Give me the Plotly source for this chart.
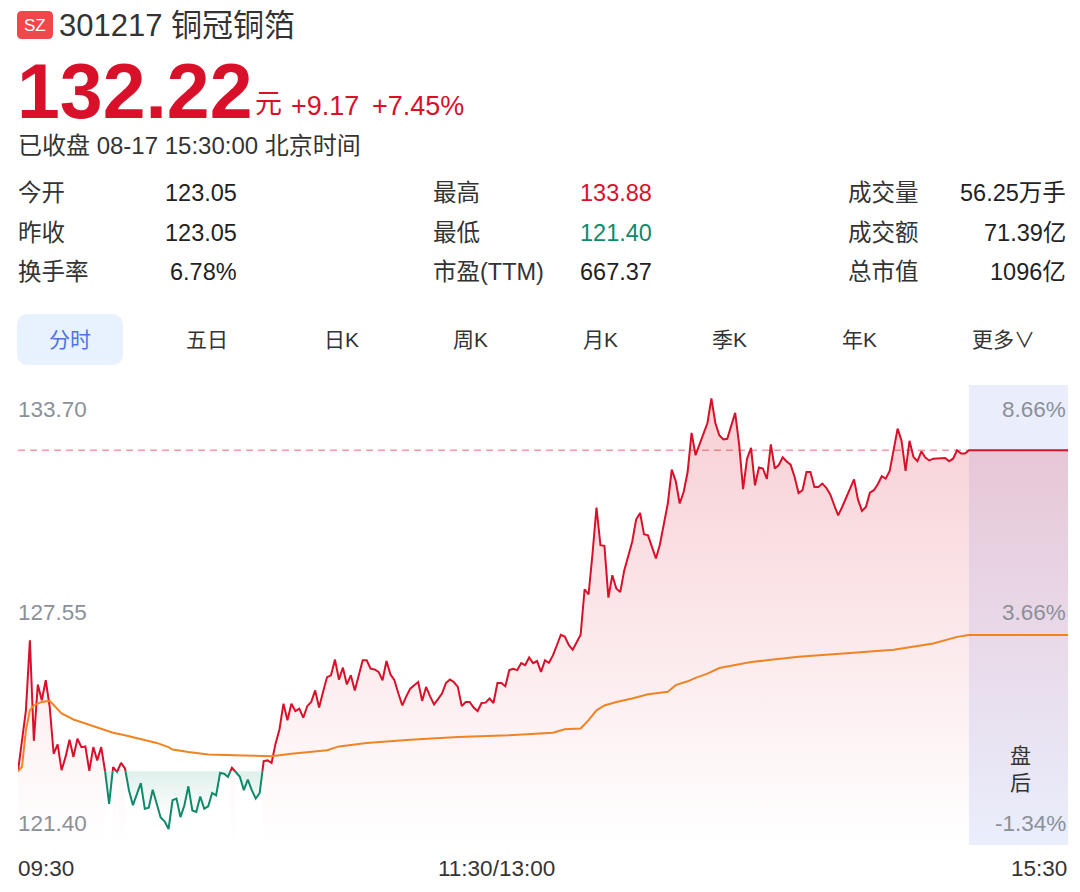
import plotly.graph_objects as go

# ── Colours / fonts ─────────────────────────────────────
RED = '#D9102A'
GREEN = '#0E8A6A'
ORANGE = '#F08322'
GRAY = '#8C9098'
DARK = '#333333'
FONT = 'Liberation Sans, Arial, Noto Sans CJK SC'
OFF = 8                     # page body margin
W, H = 1064, 876

# ── Data ───────────────────────────────────────────────
prev_close = 123.05
# minute index 0..240 (09:30-11:30, 13:00-15:00)
minutes = list(range(241))
prices = [
    123.05, 123.90, 124.79, 126.79, 123.92, 125.53, 125.08, 125.65, 124.89, 123.55,
    123.82, 123.08, 123.46, 123.95, 123.46, 123.98, 123.74, 123.76, 123.06, 123.74,
    123.36, 123.74, 123.03, 122.12, 123.17, 123.03, 123.29, 123.13, 122.51, 122.08,
    122.41, 122.71, 121.98, 122.01, 122.52, 122.12, 121.73, 121.62, 121.40, 122.22,
    122.27, 121.74, 122.08, 122.62, 121.93, 121.89, 122.33, 121.98, 122.05, 122.43,
    122.36, 123.00, 122.98, 122.89, 123.15, 123.02, 122.89, 122.51, 122.81, 122.51,
    122.27, 122.43, 123.34, 123.36, 123.29, 123.84, 124.25, 124.98, 124.51, 124.98,
    124.77, 124.84, 124.58, 124.91, 125.03, 125.36, 124.87, 125.32, 125.74, 125.79,
    126.24, 125.67, 126.01, 125.53, 125.79, 125.36, 125.79, 126.22, 126.22, 125.98,
    125.96, 125.89, 125.65, 126.20, 125.82, 125.65, 125.27, 124.93, 125.19, 125.41,
    125.51, 125.60, 125.06, 125.46, 125.19, 124.96, 125.11, 125.27, 125.57, 125.67,
    125.60, 125.46, 124.91, 125.03, 125.03, 124.87, 124.77, 125.00, 125.01, 125.13,
    125.00, 125.57, 125.57, 125.48, 125.94, 125.98, 125.94, 126.14, 126.08, 126.30,
    126.14, 126.20, 125.89, 126.22, 126.15, 126.36, 126.65, 126.95, 126.90, 126.66,
    126.52, 126.72, 126.95, 128.25, 128.10, 129.27, 130.58, 129.51, 129.49, 128.01,
    128.65, 128.27, 128.17, 128.79, 129.22, 129.60, 130.24, 130.43, 129.82, 129.79,
    129.46, 129.13, 129.53, 130.17, 130.70, 131.67, 131.34, 130.70, 131.03, 131.60,
    132.72, 132.08, 132.39, 132.67, 133.00, 133.70, 133.00, 132.65, 132.53, 132.55,
    132.96, 133.29, 132.39, 131.11, 131.98, 132.29, 131.22, 131.73, 131.70, 131.40,
    132.39, 131.70, 131.80, 132.02, 131.90, 131.81, 131.46, 131.00, 131.08, 131.60,
    131.60, 131.17, 131.17, 131.27, 131.15, 130.96, 130.65, 130.36, 130.60, 130.87,
    131.15, 131.39, 130.81, 130.49, 130.60, 131.01, 131.08, 131.25, 131.48, 131.41,
    131.63, 132.22, 132.84, 132.49, 131.63, 132.49, 132.03, 131.91, 132.19, 132.01,
    131.93, 131.98, 131.98, 131.98, 132.00, 131.91, 131.98, 132.22, 132.13, 132.13,
    132.22,
]
# after-hours session (15:05-15:30) stays at the close
post_minutes = [265]
post_prices = [132.22]

avg_minutes = [0, 1, 2, 3, 4, 6, 8, 9, 11, 14, 17, 21, 24, 27, 32, 35, 38, 39, 43, 48,
               57, 64, 69, 78, 81, 88, 99, 111, 124, 135, 138, 142, 144, 146, 148, 151,
               155, 159, 164, 166, 169, 171, 174, 177, 185, 197, 210, 221, 231, 237, 240, 265]
avg_prices = [123.05, 123.17, 124.22, 124.79, 124.93, 125.03, 125.06, 124.93, 124.70, 124.53,
              124.41, 124.27, 124.15, 124.08, 123.95, 123.86, 123.74, 123.67, 123.60, 123.53,
              123.50, 123.48, 123.55, 123.65, 123.76, 123.86, 123.95, 124.03, 124.08, 124.15,
              124.25, 124.27, 124.51, 124.79, 124.93, 125.03, 125.13, 125.25, 125.32, 125.51,
              125.62, 125.72, 125.84, 126.00, 126.17, 126.32, 126.43, 126.52, 126.70, 126.89,
              126.94, 126.94]

y_labels_left = ['133.70', '127.55', '121.40']
y_label_values = [133.70, 127.55, 121.40]
y_labels_right = ['8.66%', '3.66%', '-1.34%']
x_labels = ['09:30', '11:30/13:00', '15:30']
x_label_minutes = [0, 120, 265]

stats = [
    [('今开', '123.05', None), ('最高', '133.88', RED), ('成交量', '56.25万手', None)],
    [('昨收', '123.05', None), ('最低', '121.40', GREEN), ('成交额', '71.39亿', None)],
    [('换手率', '6.78%', None), ('市盈(TTM)', '667.37', None), ('总市值', '1096亿', None)],
]
tabs = ['分时', '五日', '日K', '周K', '月K', '季K', '年K', '更多∨']


# ── split price line into runs above / below previous close ─
def split_by_level(xs, ys, level):
    segs = []
    cur_up = ys[0] >= level
    cx, cy = [xs[0]], [ys[0]]
    for i in range(1, len(xs)):
        x0, y0, x, y = xs[i - 1], ys[i - 1], xs[i], ys[i]
        up = y >= level
        if up != cur_up:
            xc = x0 + (x - x0) * (level - y0) / (y - y0)
            cx.append(xc); cy.append(level)
            segs.append((cur_up, cx, cy))
            cur_up = up
            cx, cy = [xc], [level]
        cx.append(x); cy.append(y)
    segs.append((cur_up, cx, cy))
    return segs


Y_LO, Y_HI = 120.943, 134.086

fig = go.Figure()
for up, sx, sy in split_by_level(minutes + post_minutes, prices + post_prices, prev_close):
    if up:
        # red runs: gradient area down to the bottom of the chart
        fig.add_trace(go.Scatter(
            x=sx, y=sy, mode='lines', line=dict(color=RED, width=2),
            fill='tozeroy',
            fillgradient=dict(type='vertical', start=Y_LO, stop=133.7,
                              colorscale=[[0, 'rgba(217,16,42,0)'], [1, 'rgba(217,16,42,0.20)']]),
            hoverinfo='skip', showlegend=False
        ))
    else:
        # green runs: shaded between the line and the previous close
        fig.add_trace(go.Scatter(
            x=sx, y=sy, mode='lines', line=dict(color=GREEN, width=2),
            fill='toself',
            fillgradient=dict(type='vertical', start=121.7, stop=prev_close,
                              colorscale=[[0, 'rgba(14,138,106,0)'], [1, 'rgba(14,138,106,0.13)']]),
            hoverinfo='skip', showlegend=False
        ))
fig.add_trace(go.Scatter(
    x=avg_minutes, y=avg_prices, mode='lines',
    line=dict(color=ORANGE, width=2), hoverinfo='skip', showlegend=False
))

fig.update_xaxes(range=[0, 265], domain=[(18 - OFF) / W, (1068 - OFF) / W],
                 visible=False, fixedrange=True)
fig.update_yaxes(range=[Y_LO, Y_HI], domain=[1 - (845 - OFF) / H, 1 - (385 - OFF) / H],
                 visible=False, fixedrange=True)


def px(x):
    return (x - OFF) / W


def py(y):
    return 1 - (y - OFF) / H


def text(t, x, y, size, color=DARK, xanchor='left', bold=False, **kw):
    return dict(text=f'<b>{t}</b>' if bold else t, x=px(x), y=py(y),
                xref='paper', yref='paper', xanchor=xanchor, yanchor='middle',
                showarrow=False, font=dict(size=size, color=color, family=FONT), **kw)


ann = []
# header
ann.append(text('SZ', 35, 25, 17, 'white', xanchor='center'))
ann.append(text('301217 铜冠铜箔', 57, 25, 31))
ann.append(text('132.22', 15, 91, 77, RED, bold=True))
ann.append(text('元', 253, 104, 27, RED))
ann.append(text('+9.17', 289, 106, 27, RED))
ann.append(text('+7.45%', 370, 106, 27, RED))
ann.append(text('已收盘 08-17 15:30:00 北京时间', 16, 145, 24))

# stats table
row_y = [193, 233, 272]
label_x = [16, 431, 846]
value_x = [239, 654, 1068]
for r, row in enumerate(stats):
    for c, (lab, val, col) in enumerate(row):
        ann.append(text(lab, label_x[c], row_y[r], 23.5))
        ann.append(text(val, value_x[c], row_y[r], 23.5, col or '#222222', xanchor='right'))

# tabs
tab_x = [70, 207, 341, 470, 600, 729, 859, 1003]
for i, t in enumerate(tabs):
    ann.append(text(t, tab_x[i], 339, 21, '#4F73E6' if i == 0 else DARK, xanchor='center'))

# axis labels
shifts = [-11, 1, 6]
for lab_l, lab_r, v, s in zip(y_labels_left, y_labels_right, y_label_values, shifts):
    ann.append(dict(text=lab_l, x=px(16), xref='paper', y=v, yref='y', xanchor='left',
                    yanchor='middle', yshift=s, showarrow=False,
                    font=dict(size=22.5, color=GRAY, family=FONT)))
    ann.append(dict(text=lab_r, x=px(1068), xref='paper', y=v, yref='y', xanchor='right',
                    yanchor='middle', yshift=s, showarrow=False,
                    font=dict(size=22.5, color=GRAY, family=FONT)))
for lab, m, xa in zip(x_labels, x_label_minutes, ['left', 'center', 'right']):
    ann.append(dict(text=lab, x=m, xref='x', y=py(868), yref='paper', xanchor=xa,
                    xshift=-2 if xa == 'left' else (3 if xa == 'center' else 1),
                    yanchor='middle', showarrow=False,
                    font=dict(size=22.5, color=DARK, family=FONT)))
ann.append(text('盘<br>后', 1020, 769, 21, DARK, xanchor='center'))


def rounded(x0, y0, x1, y1, r):
    a0, a1 = px(x0), px(x1)
    b0, b1 = py(y0), py(y1)
    rx, ry = r / W, r / H
    return (f'M{a0 + rx},{b0} L{a1 - rx},{b0} Q{a1},{b0} {a1},{b0 - ry} '
            f'L{a1},{b1 + ry} Q{a1},{b1} {a1 - rx},{b1} L{a0 + rx},{b1} '
            f'Q{a0},{b1} {a0},{b1 + ry} L{a0},{b0 - ry} Q{a0},{b0} {a0 + rx},{b0} Z')


shapes = [
    dict(type='path', path=rounded(17, 11, 53, 39, 5), xref='paper', yref='paper',
         fillcolor='#F0484A', line_width=0),
    dict(type='path', path=rounded(17, 314, 123, 365, 12), xref='paper', yref='paper',
         fillcolor='#E8F1FE', line_width=0),
    dict(type='rect', x0=240, x1=265, xref='x', y0=0, y1=1, yref='y domain',
         fillcolor='#EAEEFC', line_width=0, layer='below'),
    dict(type='line', x0=0, x1=240, xref='x', y0=prices[-1], y1=prices[-1], yref='y',
         line=dict(color='rgba(236,100,112,0.65)', width=1.5, dash='7px,5px'), layer='below'),
]

fig.update_layout(
    width=W, height=H,
    margin=dict(l=0, r=0, t=0, b=0),
    plot_bgcolor='white', paper_bgcolor='white',
    annotations=ann, shapes=shapes,
    showlegend=False
)

fig.write_html('out.html')
